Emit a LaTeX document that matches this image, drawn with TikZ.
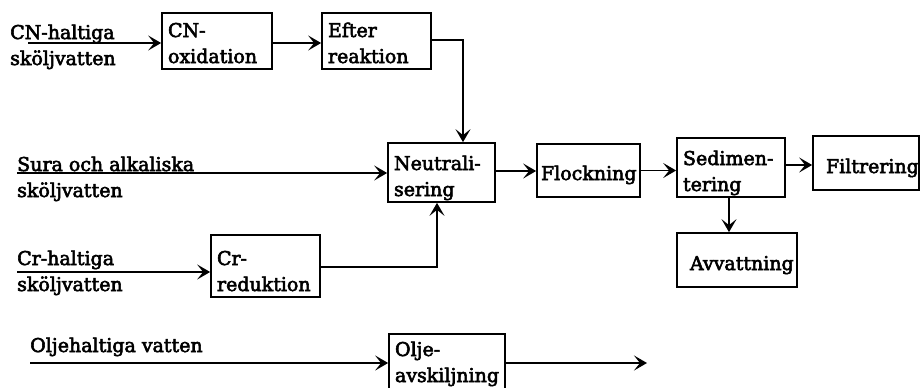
\documentclass[tikz,border=0pt]{standalone}
\usepackage{fontspec}
\setmainfont{DejaVu Serif}[FakeBold=3]
\usetikzlibrary{arrows.meta}
\newcommand{\twol}[3]{\rule{0pt}{#1pt}#2\\#3\rule[-6pt]{0pt}{6pt}}
\newcommand{\onel}[2]{\rule{0pt}{#1pt}#2\rule[-6pt]{0pt}{6pt}}
\begin{document}
\begin{tikzpicture}[x=1pt,y=-1pt,
  every node/.style={font=\fontsize{19}{26}\selectfont},
  proc/.style={draw, line width=1.7pt, align=left, inner xsep=6pt, inner ysep=0pt, anchor=center},
  lbl/.style={align=left, inner sep=0pt, anchor=base west},
  arr/.style={line width=1.9pt, -{Stealth[length=13pt,width=15pt,inset=6pt]}}]
\useasboundingbox[fill=white] (0,0) rectangle (921,388);
% boxes
\node[proc, minimum width=110pt, minimum height=54pt, text width=98pt] (cnox) at (217,41) {\twol{24}{CN-}{oxidation}};
\node[proc, minimum width=109pt, minimum height=54pt, text width=97pt] (efter) at (376.5,41) {\twol{24}{Efter}{reaktion}};
\node[proc, minimum width=107pt, minimum height=57pt, text width=95pt] (neut) at (441.5,172.5) {\twol{27}{Neutrali-}{sering}};
\node[proc, minimum width=103pt, minimum height=53pt, text width=95pt, inner xsep=4pt] (flock) at (588.5,170.5) {\onel{25}{Flockning}};
\node[proc, minimum width=108pt, minimum height=55pt, text width=96pt] (sedim) at (731,167.5) {\twol{27}{Sedimen-}{tering}};
\node[proc, minimum width=106pt, minimum height=54pt, text width=94pt, inner xsep=6pt] (filtr) at (866,163) {\hspace*{7pt}\onel{26}{Filtrering}};
\node[proc, minimum width=120pt, minimum height=54pt, text width=108pt] (avv) at (737,260) {\hspace*{7pt}\onel{26}{Avvattning}};
\node[proc, minimum width=109pt, minimum height=52pt, text width=97pt] (crred) at (265.5,266) {\twol{30}{Cr-}{reduktion}};
\node[proc, minimum width=116pt, minimum height=58pt, text width=104pt] (olje) at (447,363) {\twol{18}{Olje-}{avskiljning}};
% input labels
\node[lbl] (cnlbl) at (10,65) {CN-haltiga\\sköljvatten};
\node[lbl] (suralbl) at (17,197) {Sura och alkaliska\\sköljvatten};
\node[lbl] (crlbl) at (17,291) {Cr-haltiga\\sköljvatten};
\node[lbl] (oljelbl) at (30,352) {Oljehaltiga vatten};
% coordinates
\coordinate (cnin) at (28,43);
\coordinate (surain) at (17,173);
\coordinate (crin) at (17,272);
\coordinate (oljein) at (30,363);
\coordinate (oljeout) at (647,363);
% connectors
\draw[arr] (cnin) -- (cnin -| cnox.west);
\draw[arr] ([yshift=-2pt]cnox.east) -- ([yshift=-2pt]efter.west);
\draw[arr] ([yshift=1pt]efter.east) -| ([xshift=21.5pt]neut.north);
\draw[arr] (surain) -- (surain -| neut.west);
\draw[arr] ([yshift=1.5pt]neut.east) -- ([yshift=1.5pt]neut.east -| flock.west);
\draw[arr] (flock.east) -- (flock.east -| sedim.west);
\draw[arr] ([yshift=2.5pt]sedim.east) -- ([yshift=2.5pt]sedim.east -| filtr.west);
\draw[arr] ([xshift=-2pt]sedim.south) -- ([xshift=-2pt]sedim.south |- avv.north);
\draw[arr] (crin) -- (crin -| crred.west);
\draw[arr] ([yshift=-1pt]crred.east) -| ([xshift=-4.5pt]neut.south);
\draw[arr] (oljein) -- (oljein -| olje.west);
\draw[arr] (oljein -| olje.east) -- (oljeout);
\end{tikzpicture}
\end{document}
